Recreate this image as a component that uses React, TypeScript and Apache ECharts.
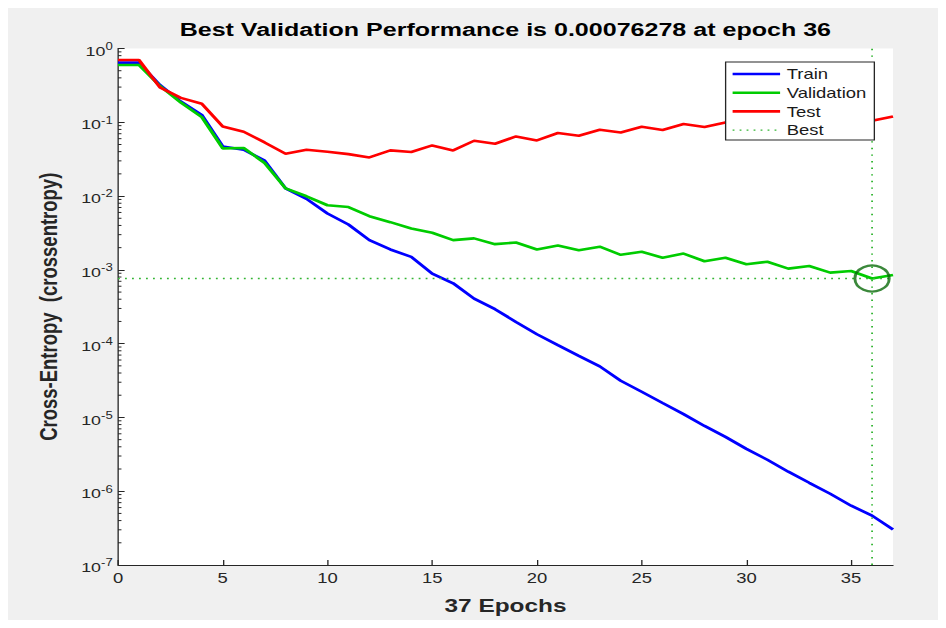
import React, { useEffect, useRef } from "react";
import * as echarts from "echarts";

// Training record of the network, one value per epoch
const epochs = [0, 1, 2, 3, 4, 5, 6, 7, 8, 9, 10, 11, 12, 13, 14, 15, 16, 17, 18, 19, 20, 21, 22, 23, 24, 25, 26, 27, 28, 29, 30, 31, 32, 33, 34, 35, 36, 37];

const trainPerf = [0.643, 0.643, 0.321, 0.191, 0.126, 0.0471, 0.0425, 0.0302, 0.0127, 0.00917, 0.00581, 0.00412, 0.00253, 0.00189, 0.0015, 0.00089, 0.000658, 0.000408, 0.000293, 0.000197, 0.000134, 9.55e-5, 6.84e-5, 4.92e-5, 3.14e-5, 2.23e-5, 1.57e-5, 1.11e-5, 7.67e-6, 5.45e-6, 3.75e-6, 2.67e-6, 1.84e-6, 1.3e-6, 9.25e-7, 6.37e-7, 4.67e-7, 3.02e-7];

const validationPerf = [0.598, 0.598, 0.311, 0.185, 0.1175, 0.0443, 0.0448, 0.0281, 0.0127, 0.00994, 0.00751, 0.0071, 0.00533, 0.00443, 0.00364, 0.00318, 0.00253, 0.00267, 0.00223, 0.00235, 0.00189, 0.00214, 0.00184, 0.00206, 0.0016, 0.00176, 0.00146, 0.00166, 0.00131, 0.00146, 0.00119, 0.00129, 0.00104, 0.00113, 0.000917, 0.000964, 0.00076278, 0.000851];

const testPerf = [0.699, 0.699, 0.297, 0.214, 0.178, 0.0878, 0.0744, 0.0533, 0.0375, 0.0425, 0.0399, 0.037, 0.0334, 0.0416, 0.0396, 0.0486, 0.0416, 0.0562, 0.0512, 0.0643, 0.0568, 0.0715, 0.0657, 0.0792, 0.0728, 0.0869, 0.0785, 0.0946, 0.0861, 0.0994, 0.091, 0.1064, 0.0969, 0.1115, 0.1016, 0.117, 0.1048, 0.1198];

const bestEpoch = 36;
const bestPerf = 0.00076278;

// Axis ranges and ticks
const xMin = 0;
const xMax = 37;
const xTicks = [0, 5, 10, 15, 20, 25, 30, 35];
const yMin = 1e-7;
const yMax = 1;
const yDecades = [1e-7, 1e-6, 1e-5, 1e-4, 1e-3, 1e-2, 1e-1];
const yMinorSteps = [2, 3, 4, 5, 6, 7, 8, 9];

// The figure is drawn narrow and widened horizontally
const FIG_W = 930;
const FIG_H = 612;
const CHART_W = 705;
const STRETCH = FIG_W / CHART_W;

const FONT = "'Liberation Sans', Arial, Helvetica, sans-serif";
const INK = "#262626";
const LINE_W = 2.6;
const BEST_W = 1.4;

const pairs = (ys: number[]) => epochs.map((e, i) => [e, ys[i]]);

export default function App() {
  const ref = useRef<HTMLDivElement>(null);

  useEffect(() => {
    if (!ref.current) return;
    const chart = echarts.init(ref.current, null, { renderer: "svg" });

    const minorTicks: number[][] = [];
    yDecades.forEach((d) => yMinorSteps.forEach((m) => minorTicks.push([xMin, d * m])));

    const option: any = {
      animation: false,
      textStyle: { fontFamily: FONT },
      title: {
        text: `Best Validation Performance is ${bestPerf} at epoch ${bestEpoch}`,
        left: 377,
        top: 12,
        textAlign: "center",
        padding: 0,
        textStyle: { fontFamily: FONT, fontSize: 19, fontWeight: "bold", color: "#000" },
      },
      grid: {
        left: 83.4,
        right: 34.1,
        top: 40.5,
        bottom: 53.5,
        show: true,
        backgroundColor: "#ffffff",
        borderWidth: 0,
      },
      legend: {
        orient: "vertical",
        left: 544,
        top: 54,
        padding: [5, 6, 3, 4],
        itemGap: 4.7,
        itemWidth: 36,
        itemHeight: 14,
        backgroundColor: "#ffffff",
        borderColor: INK,
        borderWidth: 1,
        borderRadius: 0,
        itemStyle: { opacity: 0 },
        data: [
          { name: "Train", lineStyle: { width: LINE_W } },
          { name: "Validation", lineStyle: { width: LINE_W } },
          { name: "Test", lineStyle: { width: LINE_W } },
          { name: "Best", lineStyle: { width: BEST_W } },
        ],
        textStyle: { fontFamily: FONT, fontSize: 14, color: "#1a1a1a", lineHeight: 14 },
      },
      xAxis: {
        type: "value",
        min: xMin,
        max: xMax,
        name: `${epochs.length - 1} Epochs`,
        nameLocation: "middle",
        nameGap: 31,
        nameTextStyle: { fontFamily: FONT, fontSize: 18.5, fontWeight: "bold", color: INK },
        axisLine: { show: true, onZero: false, lineStyle: { color: INK, width: 1 } },
        axisTick: { show: true, inside: true, length: 5, customValues: xTicks, lineStyle: { color: INK } },
        axisLabel: { customValues: xTicks, margin: 6, fontSize: 14, color: INK, fontFamily: FONT },
        splitLine: { show: false },
      },
      yAxis: {
        type: "log",
        logBase: 10,
        min: yMin,
        max: yMax,
        name: "Cross-Entropy  (crossentropy)",
        nameLocation: "middle",
        nameGap: 43,
        nameTextStyle: { fontFamily: FONT, fontSize: 18.5, fontWeight: "bold", color: INK },
        axisLine: { show: true, lineStyle: { color: INK, width: 1 } },
        axisTick: { show: true, inside: true, length: 5, lineStyle: { color: INK } },
        minorTick: { show: false },
        splitLine: { show: false },
        axisLabel: {
          margin: 4,
          padding: [5, 0, 0, 0],
          color: INK,
          formatter: (v: number) => `{b|10}{s|${Math.round(Math.log10(v))}}`,
          rich: {
            b: { fontFamily: FONT, fontSize: 13.5, color: INK, lineHeight: 20 },
            s: { fontFamily: FONT, fontSize: 10, color: INK, lineHeight: 8, verticalAlign: "top" },
          },
        },
      },
      series: [
        {
          type: "custom",
          name: "minorTicks",
          silent: true,
          clip: false,
          z: 1,
          data: minorTicks,
          encode: { x: 0, y: 1 },
          renderItem: (_p: any, api: any) => {
            const pt = api.coord([api.value(0), api.value(1)]);
            return {
              type: "line",
              shape: { x1: pt[0], y1: pt[1], x2: pt[0] + 2.6, y2: pt[1] },
              style: { stroke: INK, lineWidth: 1 },
            };
          },
        },
        {
          name: "Train",
          type: "line",
          data: pairs(trainPerf),
          symbol: "none",
          lineStyle: { color: "#0000ff", width: LINE_W },
          itemStyle: { color: "#0000ff" },
          z: 3,
        },
        {
          name: "Validation",
          type: "line",
          data: pairs(validationPerf),
          symbol: "none",
          lineStyle: { color: "#00cc00", width: LINE_W },
          itemStyle: { color: "#00cc00" },
          z: 3,
        },
        {
          name: "Test",
          type: "line",
          data: pairs(testPerf),
          symbol: "none",
          lineStyle: { color: "#ff0000", width: LINE_W },
          itemStyle: { color: "#ff0000" },
          z: 3,
        },
        {
          name: "Best",
          type: "line",
          data: [
            [xMin, bestPerf],
            [xMax, bestPerf],
          ],
          symbol: "none",
          lineStyle: { color: "#33b533", width: BEST_W, type: [1.4, 3.9] },
          itemStyle: { color: "#33b533" },
          z: 3,
        },
        {
          name: "Best",
          type: "line",
          data: [
            [bestEpoch, yMin],
            [bestEpoch, yMax],
          ],
          symbol: "none",
          lineStyle: { color: "#33b533", width: BEST_W, type: [1.4, 5.2] },
          itemStyle: { color: "#33b533" },
          z: 3,
        },
        {
          name: "bestMarker",
          type: "scatter",
          data: [[bestEpoch, bestPerf]],
          symbol: "circle",
          symbolSize: 26,
          silent: true,
          itemStyle: { color: "rgba(0,0,0,0)", borderColor: "#0a6a0a", borderWidth: 2.2 },
          z: 4,
        },
      ],
    };

    chart.setOption(option);
    return () => chart.dispose();
  }, []);

  return (
    <div style={{ width: FIG_W, height: FIG_H, background: "#f0f0f0", overflow: "hidden" }}>
      <div
        ref={ref}
        style={{
          width: CHART_W,
          height: FIG_H,
          transform: `scaleX(${STRETCH})`,
          transformOrigin: "0 0",
        }}
      />
    </div>
  );
}
